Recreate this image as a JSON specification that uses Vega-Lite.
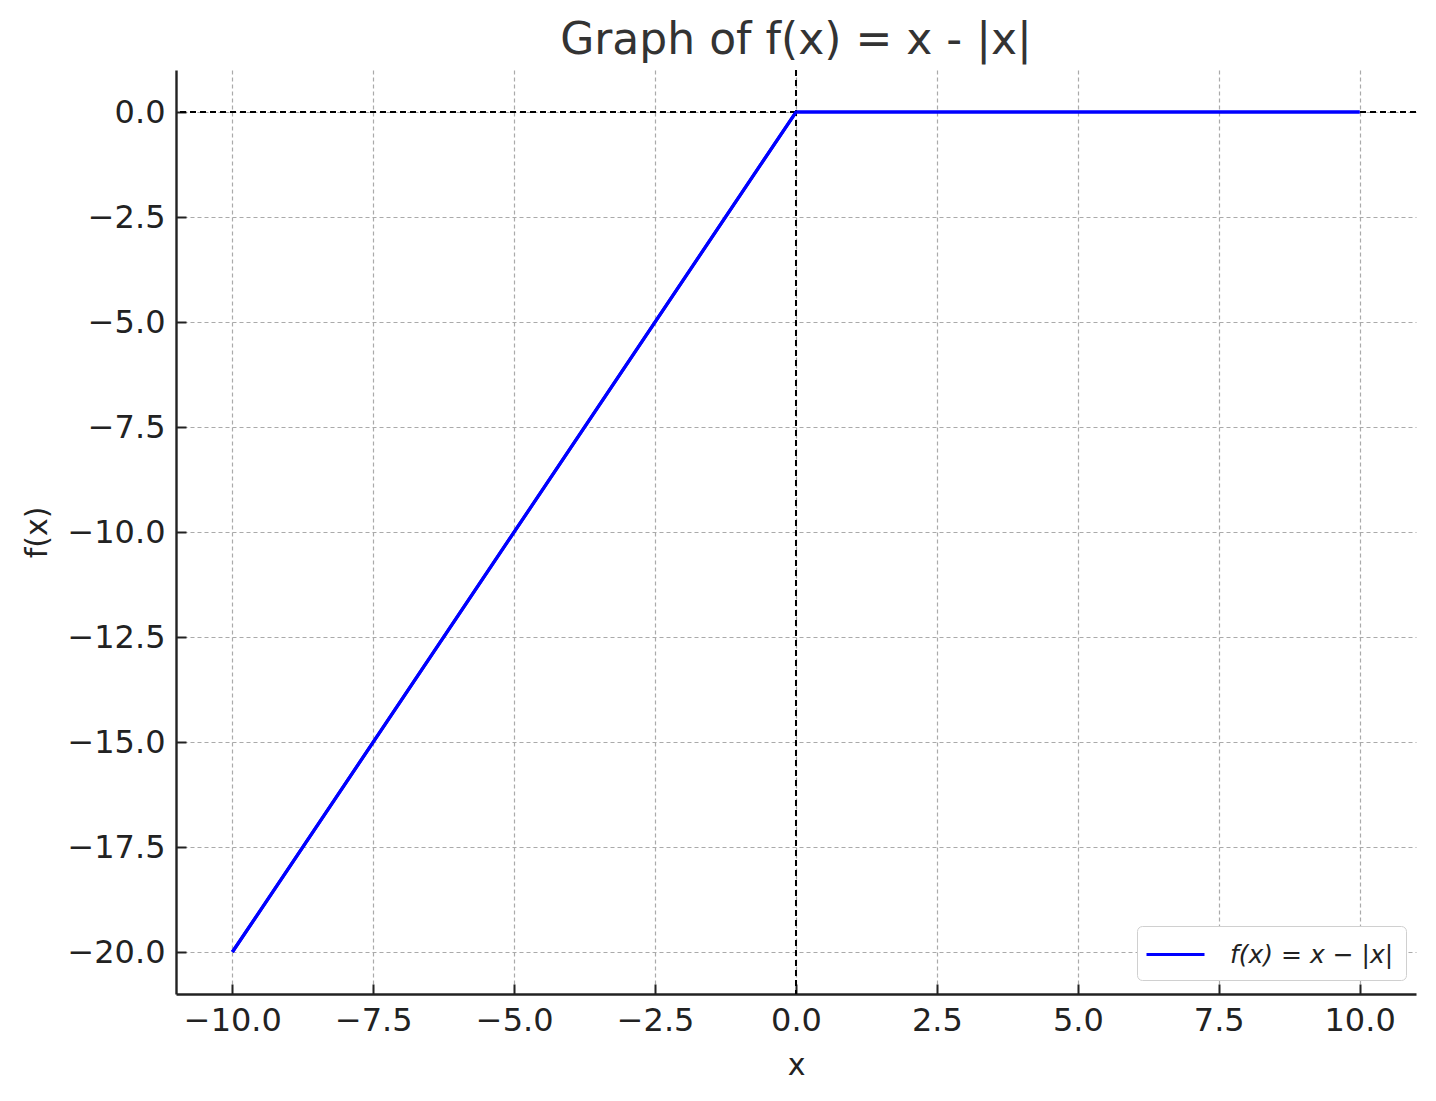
{
  "$schema": "https://vega.github.io/schema/vega-lite/v6.json",
  "autosize": "none",
  "width": 1240,
  "height": 924,
  "padding": {"left": 176, "top": 70, "right": 20, "bottom": 107},
  "background": "white",
  "title": {
    "text": "Graph of f(x) = x - |x|",
    "font": "DejaVu Sans",
    "fontSize": 44,
    "fontWeight": "normal",
    "color": "#333333",
    "offset": 6
  },
  "config": {
    "view": {"stroke": null},
    "axis": {
      "grid": true,
      "labelFont": "DejaVu Sans",
      "labelFontSize": 32,
      "labelColor": "#222222",
      "titleFont": "DejaVu Sans",
      "titleFontSize": 30,
      "titleFontWeight": "normal",
      "titleColor": "#222222",
      "domainColor": "#222222",
      "domainWidth": 2.4,
      "tickColor": "#222222",
      "tickWidth": 2,
      "tickSize": -10,
      "labelPadding": 21,
      "gridColor": "#aaaaaa",
      "gridDash": [4, 3],
      "gridWidth": 1.2
    }
  },
  "data": {
    "values": [
      {"x": -10, "fx": -20, "series": "f(x) = x − |x|"},
      {"x": 0, "fx": 0, "series": "f(x) = x − |x|"},
      {"x": 10, "fx": 0, "series": "f(x) = x − |x|"}
    ]
  },
  "layer": [
    {
      "mark": {"type": "line", "strokeWidth": 3.2},
      "encoding": {
        "x": {
          "field": "x",
          "type": "quantitative",
          "title": "x",
          "scale": {"domain": [-11, 11], "nice": false, "zero": false},
          "axis": {
            "values": [-10, -7.5, -5, -2.5, 0, 2.5, 5, 7.5, 10],
            "format": ".1f",
            "labelExpr": "replace(datum.label, '-', '−')",
            "titlePadding": 14
          }
        },
        "y": {
          "field": "fx",
          "type": "quantitative",
          "title": "f(x)",
          "scale": {"domain": [-21, 1], "nice": false, "zero": false},
          "axis": {
            "values": [0, -2.5, -5, -7.5, -10, -12.5, -15, -17.5, -20],
            "format": ".1f",
            "labelExpr": "replace(datum.label, '-', '−')",
            "titlePadding": 14
          }
        },
        "color": {
          "field": "series",
          "type": "nominal",
          "scale": {"range": ["#0000ff"]},
          "legend": {
            "title": null,
            "orient": "none",
            "legendX": 961,
            "legendY": 856,
            "symbolType": "M-2,0h4",
            "symbolSize": 841,
            "symbolStrokeWidth": 3.2,
            "symbolOffset": 10,
            "labelFont": "DejaVu Sans",
            "labelFontStyle": "italic",
            "labelFontSize": 25,
            "labelLimit": 400,
            "labelColor": "#222222",
            "labelOffset": 38,
            "strokeColor": "#d0d0d0",
            "cornerRadius": 5,
            "padding": 12,
            "fillColor": "white"
          }
        }
      }
    },
    {
      "mark": {"type": "rule", "color": "black", "strokeDash": [6, 4], "strokeWidth": 2},
      "encoding": {"y": {"datum": 0, "type": "quantitative"}}
    },
    {
      "mark": {"type": "rule", "color": "black", "strokeDash": [6, 4], "strokeWidth": 2},
      "encoding": {"x": {"datum": 0, "type": "quantitative"}}
    },
    {
      "mark": {"type": "line", "strokeWidth": 3.2, "color": "#0000ff"},
      "encoding": {
        "x": {"field": "x", "type": "quantitative"},
        "y": {"field": "fx", "type": "quantitative"}
      }
    }
  ]
}
